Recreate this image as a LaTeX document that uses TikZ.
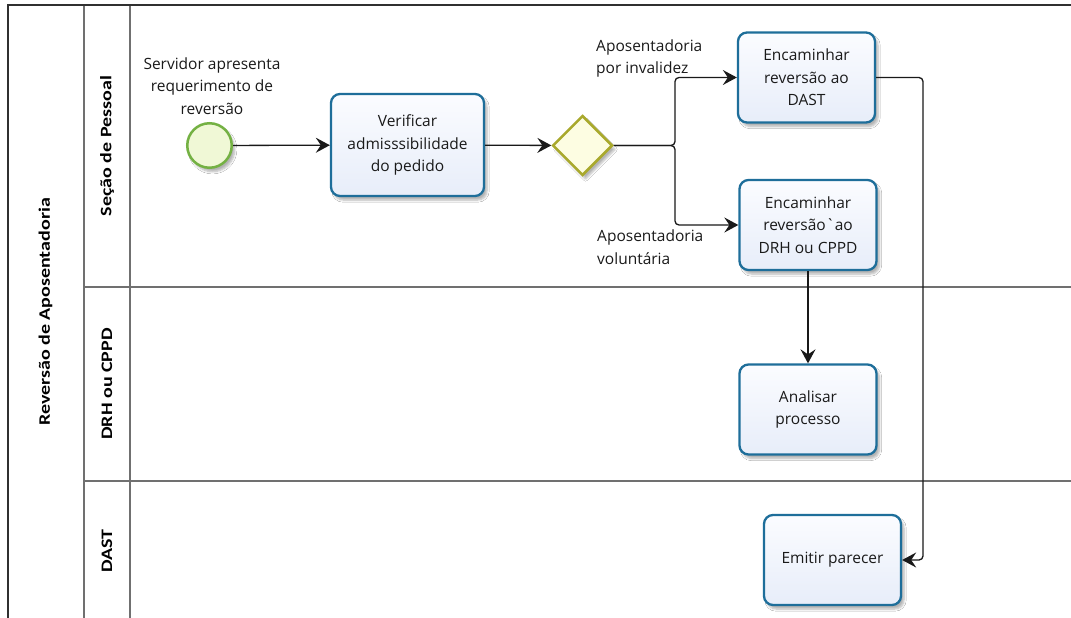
\documentclass[tikz,border=0pt]{standalone}
\usepackage{fontspec}
\usepackage{graphicx}
\setmainfont{Open Sans}
\newfontfamily\lanefont{Carlito}
\usetikzlibrary{arrows.meta,shapes.geometric,shadows.blur,calc}

\definecolor{taskedge}{HTML}{1E6E9A}
\definecolor{tasktop}{HTML}{FBFCFF}
\definecolor{taskbot}{HTML}{E7EDF9}
\definecolor{gwedge}{HTML}{A9A92C}
\definecolor{gwfill}{HTML}{FDFDE2}
\definecolor{startedge}{HTML}{74B143}
\definecolor{startfill}{HTML}{F0F8D6}
\definecolor{laneline}{HTML}{707070}
\definecolor{poolline}{HTML}{303030}
\definecolor{inkcol}{HTML}{1A1A1A}

\tikzset{
  softshadow/.style={blur shadow={shadow xshift=3pt, shadow yshift=-4pt,
      shadow blur steps=6, shadow opacity=30}},
  task/.style={draw=taskedge, line width=2.3pt, rounded corners=9pt,
      top color=tasktop, bottom color=taskbot, softshadow,
      minimum width=137pt, minimum height=90pt, inner sep=2pt,
      align=center, text=inkcol, font=\fontsize{15.5}{22.5}\selectfont},
  startev/.style={circle, draw=startedge, line width=2.5pt, fill=startfill,
      minimum size=44.5pt, inner sep=0pt, softshadow},
  gateway/.style={diamond, aspect=1, draw=gwedge, line width=2.5pt, fill=gwfill,
      minimum size=60pt, inner sep=0pt, softshadow},
  note/.style={inner sep=0pt, text=inkcol, font=\fontsize{15.5}{22.5}\selectfont},
  flow/.style={draw=black!90, line width=1.3pt,
      -{Stealth[length=14pt, width=15pt, inset=5pt]}},
  lanelabel/.style={rotate=90, inner sep=0pt, text=black,
      font=\lanefont\bfseries\fontsize{20}{24}\selectfont},
  laneline/.style={draw=laneline, line width=1.5pt},
  poolline/.style={draw=poolline, line width=2pt},
}

\begin{document}
\begin{tikzpicture}[x=1pt, y=-1pt]
  \useasboundingbox[fill=white] (0,0) rectangle (1071,618);

  % pool and lane frame
  \draw[laneline] (84,5) -- (84,630);
  \draw[laneline] (130,5) -- (130,630);
  \draw[laneline] (84,287) -- (1080,287);
  \draw[laneline] (84,481) -- (1080,481);
  \draw[poolline] (7.5,630) -- (7.5,5) -- (1080,5);

  % pool and lane headers
  \node[lanelabel] (pool) at (45.5,312) {\scalebox{1}[0.8]{Reversão de Aposentadoria}};
  \node[lanelabel] (laneA) at (107,146) {\scalebox{1}[0.8]{Seção de Pessoal}};
  \node[lanelabel] (laneB) at (107,384) {\scalebox{1}[0.8]{DRH ou CPPD}};
  \node[lanelabel] (laneC) at (107,551) {\scalebox{1}[0.8]{DAST}};

  % flow elements
  \node[startev] (start) at (209.5,145.5) {};
  \node[note, align=center] (startlbl) at (212,86)
      {Servidor apresenta\\requerimento de\\reversão};
  \node[task, minimum width=153pt, minimum height=102pt] (verif) at (407.5,145)
      {Verificar\\admisssibilidade\\do pedido};
  \node[gateway] (gw) at (582.5,145.5) {};
  \node[task] (dast) at (806.5,77.5) {Encaminhar\\reversão ao\\DAST};
  \node[task] (drh) at (808,225)
      {Encaminhar\\reversão\textasciigrave ao\\DRH ou CPPD};
  \node[task] (anal) at (808,409.5) {Analisar\\processo};
  \node[task] (emit) at (832.5,560) {Emitir parecer};

  \node[note, anchor=west, align=left] (lblinv) at (596,58.5)
      {Aposentadoria\\por invalidez};
  \node[note, anchor=west, align=left] (lblvol) at (597,247)
      {Aposentadoria\\voluntária};

  % sequence flows
  \coordinate (split) at (675,145.5);
  \coordinate (drop) at (923,0);
  \draw[flow] (start) -- (verif);
  \draw[flow] (verif) -- (gw);
  \draw[flow, rounded corners=4pt] (gw.east) -- (split) |- (dast.west);
  \draw[flow, rounded corners=4pt] (gw.east) -- (split) |- (drh.west);
  \draw[flow, rounded corners=4pt] (dast.east) -| (drop |- emit.east) -- (emit.east);
  \draw[flow] (drh.south) -- (anal.north);
\end{tikzpicture}
\end{document}
